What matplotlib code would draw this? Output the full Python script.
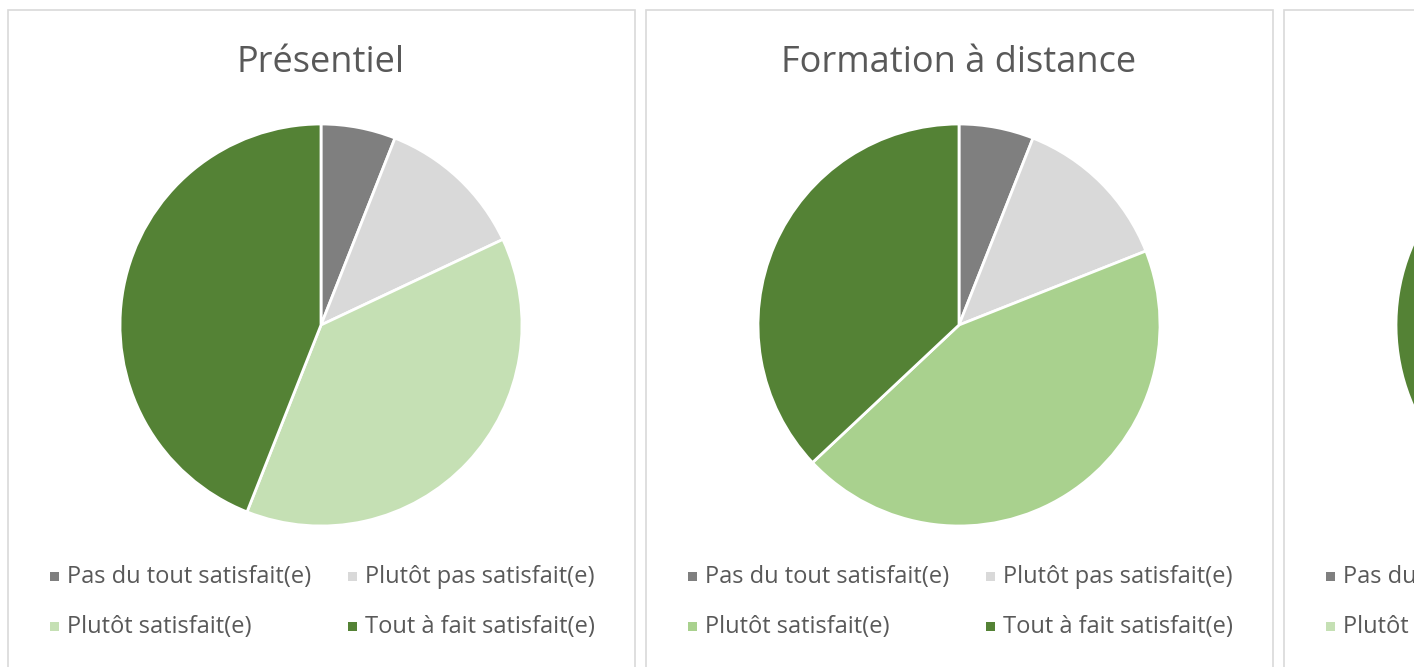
import matplotlib.pyplot as plt
from matplotlib.patches import Rectangle

# Répartition de la satisfaction (%)
categories = ["Pas du tout satisfait(e)", "Plutôt pas satisfait(e)",
              "Plutôt satisfait(e)", "Tout à fait satisfait(e)"]
titles = ["Présentiel", "Formation à distance", ""]  # 3e titre hors cadre
presentiel = [6, 12, 38, 44]
distance = [6, 13, 44, 37]
troisieme = [5, 10, 40, 45]   # panneau coupé à droite, valeurs estimées
series = [presentiel, distance, troisieme]

colors = [
    ["#7f7f7f", "#d9d9d9", "#c5e0b4", "#548235"],
    ["#7f7f7f", "#d9d9d9", "#a9d18e", "#548235"],
    ["#7f7f7f", "#d9d9d9", "#c5e0b4", "#548235"],
]

plt.rcParams['font.family'] = ['Open Sans', 'DejaVu Sans']
W, H = 1427, 667
fig = plt.figure(figsize=(W / 100, H / 100), dpi=100)
fig.patch.set_facecolor("white")

txt_color = "#595959"
for i, vals in enumerate(series):
    left = 8 + i * 638
    # cadre du graphique
    fig.patches.append(Rectangle((left / W, -0.1), 627 / W, (H - 10) / H + 0.1,
                                 transform=fig.transFigure, fill=False,
                                 edgecolor="#d9d9d9", linewidth=1.2))
    cx, cy, r = left + 313, 325, 201
    ax = fig.add_axes([(cx - r) / W, 1 - (cy + r) / H, 2 * r / W, 2 * r / H])
    ax.pie(vals, colors=colors[i], startangle=90, counterclock=False,
           wedgeprops=dict(edgecolor="white", linewidth=2))
    ax.set_xlim(-1, 1)
    ax.set_ylim(-1, 1)
    ax.set_aspect("equal")
    ax.axis("off")

    if titles[i]:
        fig.text(cx / W, 1 - 72 / H, titles[i], ha="center", va="baseline",
                 fontsize=26, color=txt_color)

    # légende (les textes du 3e panneau sont coupés comme sur l'original)
    for j, lab in enumerate(categories):
        row, col = j // 2, j % 2
        mx = left + 42 + col * 298
        base = 583 + row * 50
        fig.patches.append(Rectangle((mx / W, 1 - (base - 2) / H), 9 / W, 9 / H,
                                     transform=fig.transFigure,
                                     facecolor=colors[i][j], edgecolor="none"))
        fig.text((mx + 17) / W, 1 - base / H, lab, ha="left", va="baseline",
                 fontsize=17, color=txt_color)

# bande blanche à droite : la capture d'origine s'arrête vers x = 1414
fig.patches.append(Rectangle((1414 / W, 0), 1, 1, transform=fig.transFigure,
                             facecolor="white", edgecolor="none", zorder=10))

fig.savefig("out.png", dpi=100)
